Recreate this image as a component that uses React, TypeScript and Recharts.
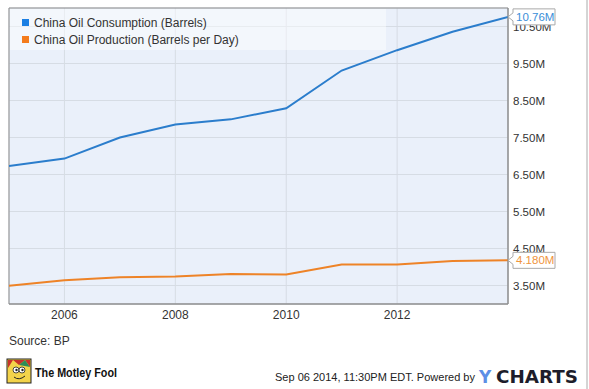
import React from 'react';
import { LineChart, Line, XAxis, YAxis, CartesianGrid, Legend, LabelList, ReferenceArea } from 'recharts';

const years = [2005, 2006, 2007, 2008, 2009, 2010, 2011, 2012, 2013, 2014];
const consumption = [6.73, 6.93, 7.5, 7.85, 7.99, 8.29, 9.31, 9.86, 10.36, 10.76];
const production = [3.49, 3.64, 3.72, 3.74, 3.81, 3.8, 4.07, 4.07, 4.16, 4.18];
const xTicks = [2006, 2008, 2010, 2012];
const yTicks = [3.5, 4.5, 5.5, 6.5, 7.5, 8.5, 9.5, 10.5];
const seriesNames = ['China Oil Consumption (Barrels)', 'China Oil Production (Barrels per Day)'];
const lastLabels = ['10.76M', '4.180M'];
const sourceText = 'Source: BP';
const footerText = 'Sep 06 2014, 11:30PM EDT.  Powered by';

const data = years.map((year, i) => ({ year, consumption: consumption[i], production: production[i] }));

const BLUE = '#2b7dcc';
const ORANGE = '#ee8327';
const LEGEND_COLORS = ['#1b7fe3', '#f47c1c'];
const FONT = '"Liberation Sans", Arial, Helvetica, sans-serif';

const makeEndLabel = (textColor: string, text: string) => (props: any) => {
  const { x, y, index } = props;
  if (index !== data.length - 1) return null;
  const bx = x + 5;
  const w = 42;
  const d = `M${bx} ${y - 8} H${bx + w} V${y + 8} H${bx} V${y + 4} L${x} ${y} L${bx} ${y - 4} Z`;
  return (
    <g>
      <path d={d} fill="#ffffff" stroke="#a9a9a9" strokeWidth={1} />
      <text x={bx + 3} y={y} dy="0.36em" fontSize={11.5} fill={textColor} fontFamily={FONT}>
        {text}
      </text>
    </g>
  );
};

const renderLegend = (props: any) => {
  const payload = props.payload || [];
  return (
    <div style={{ padding: '5px 0 0 12px', fontFamily: FONT }}>
      {payload.map((p: any, i: number) => (
        <div key={i} style={{ display: 'flex', alignItems: 'center', height: 17, fontSize: 12, color: '#333' }}>
          <span style={{ display: 'inline-block', width: 7, height: 7, background: LEGEND_COLORS[i], marginRight: 5 }} />
          {p.value}
        </div>
      ))}
    </div>
  );
};

const MotleyIcon = () => (
  <g transform="translate(7,359)">
    <rect x={0} y={0} width={24} height={24} fill="#f3d34a" stroke="#222" strokeWidth={1} />
    <path d="M1 9 L6 1 L12 6 L18 1 L23 8 L23 1 L1 1 Z" fill="#c8312b" />
    <path d="M12 6 L18 1 L23 8 Z" fill="#2e8b57" />
    <circle cx={9} cy={11} r={3} fill="#fff" stroke="#222" strokeWidth={0.8} />
    <circle cx={15} cy={11} r={3} fill="#fff" stroke="#222" strokeWidth={0.8} />
    <circle cx={9.5} cy={11} r={1.2} fill="#222" />
    <circle cx={15.5} cy={11} r={1.2} fill="#222" />
    <path d="M7 18 Q12 22 18 17" stroke="#222" strokeWidth={1} fill="none" />
  </g>
);

export default function App() {
  return (
    <div style={{ position: 'fixed', left: 0, top: 0, width: 589, height: 389, background: '#fff', overflow: 'hidden', fontFamily: FONT }}>
      <LineChart width={589} height={330} data={data} margin={{ top: 8, right: 0, left: 9, bottom: 0 }}>
        <CartesianGrid stroke="#d6dce4" fill="#eaf0fa" />
        <XAxis
          dataKey="year"
          type="number"
          domain={[2005, 2014]}
          ticks={xTicks}
          allowDataOverflow
          height={26}
          tickLine={false}
          tickSize={4}
          tickMargin={2}
          axisLine={{ stroke: '#8f8f8f' }}
          tick={{ fill: '#333', fontSize: 12, fontFamily: FONT }}
        />
        <YAxis
          orientation="right"
          domain={[3, 11]}
          ticks={yTicks}
          allowDataOverflow
          width={81}
          tickLine={false}
          tickSize={3}
          tickMargin={2}
          axisLine={{ stroke: '#8f8f8f' }}
          tickFormatter={(v: number) => v.toFixed(2) + 'M'}
          tick={{ fill: '#333', fontSize: 11.5, fontFamily: FONT }}
        />
        <ReferenceArea x1={2005} x2={2014} y1={3} y2={11} fill="none" stroke="#8f8f8f" strokeWidth={1} ifOverflow="visible" />
        <Legend
          layout="horizontal"
          verticalAlign="middle"
          align="center"
          content={renderLegend}
          wrapperStyle={{ left: 10, top: 9, width: 376, height: 41, background: 'rgba(255,255,255,0.45)' }}
        />
        <Line
          type="linear"
          dataKey="consumption"
          name={seriesNames[0]}
          stroke={BLUE}
          strokeWidth={2}
          dot={false}
          isAnimationActive={false}
        >
          <LabelList dataKey="consumption" content={makeEndLabel('#3a8ed8', lastLabels[0])} />
        </Line>
        <Line
          type="linear"
          dataKey="production"
          name={seriesNames[1]}
          stroke={ORANGE}
          strokeWidth={2}
          dot={false}
          isAnimationActive={false}
        >
          <LabelList dataKey="production" content={makeEndLabel('#f0953c', lastLabels[1])} />
        </Line>
      </LineChart>
      <svg width={589} height={389} style={{ position: 'absolute', left: 0, top: 0, pointerEvents: 'none' }}>
        <line x1={587} y1={0} x2={587} y2={389} stroke="#aaaaaa" strokeWidth={1} />
        <text x={9} y={341} dy="0.36em" fontSize={12} fill="#333" fontFamily={FONT}>{sourceText}</text>
        <MotleyIcon />
        <text x={35} y={372} dy="0.36em" fontSize={13} fontWeight="bold" fill="#111" fontFamily={FONT} textLength={82} lengthAdjust="spacingAndGlyphs">The Motley Fool</text>
        <text x={275} y={377} dy="0.36em" fontSize={11} fill="#222" fontFamily={FONT} textLength={200} lengthAdjust="spacingAndGlyphs">{footerText}</text>
        <text x={479} y={383} fontSize={17} fontWeight="bold" fill="#5d8fe6" fontFamily='"DejaVu Sans", sans-serif'>Y</text>
        <text x={496} y={383} fontSize={17} fontWeight="bold" fill="#1d1d2b" fontFamily='"DejaVu Sans", sans-serif' textLength={82} lengthAdjust="spacingAndGlyphs">CHARTS</text>
      </svg>
    </div>
  );
}
